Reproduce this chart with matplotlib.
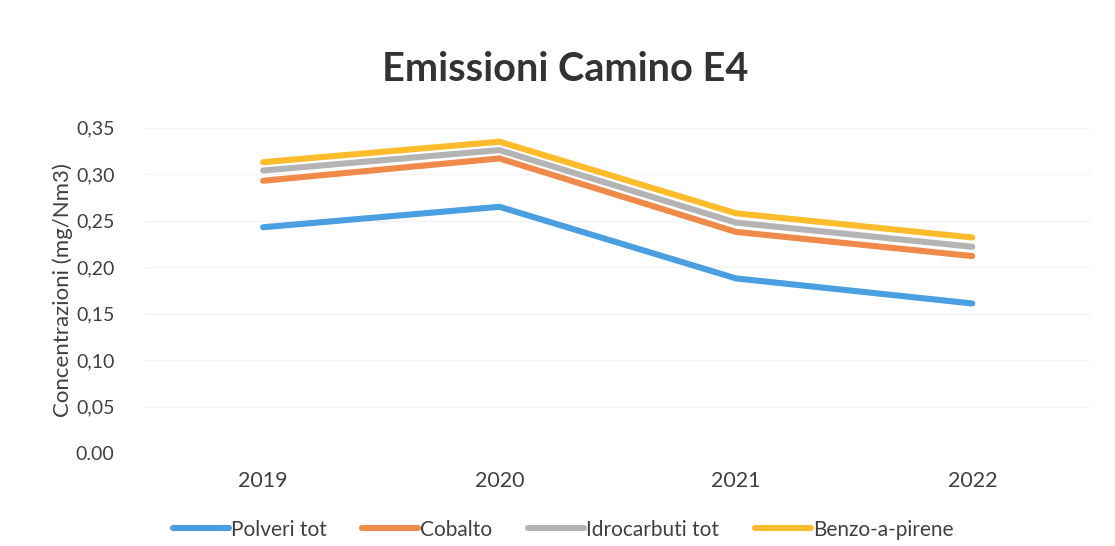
import matplotlib.pyplot as plt
from matplotlib.ticker import FixedLocator, FixedFormatter

years = ['2019', '2020', '2021', '2022']
polveri = [0.243, 0.265, 0.188, 0.161]
cobalto = [0.293, 0.317, 0.238, 0.212]
idrocarburi = [0.304, 0.326, 0.248, 0.222]
benzopirene = [0.313, 0.335, 0.258, 0.232]

series = [
    ('Polveri tot', polveri, '#4a9fe0'),
    ('Cobalto', cobalto, '#f08a4b'),
    ('Idrocarbuti tot', idrocarburi, '#b4b4b4'),
    ('Benzo-a-pirene', benzopirene, '#fcbc2c'),
]
yticks = [0.00, 0.05, 0.10, 0.15, 0.20, 0.25, 0.30, 0.35]
ytick_labels = ['0.00', '0,05', '0,10', '0,15', '0,20', '0,25', '0,30', '0,35']

plt.rcParams['font.family'] = ['Lato', 'DejaVu Sans']

fig = plt.figure(figsize=(11.15, 5.46), dpi=100)
ax = fig.add_axes([0.130, 0.170, 0.848, 0.596])

x = range(len(years))
for name, vals, color in series:
    ax.plot(x, vals, color=color, lw=4.4, solid_capstyle='round',
            solid_joinstyle='round', label=name)

ax.set_xlim(-0.5, len(years) - 0.5)
ax.set_ylim(0, 0.35)
ax.set_xticks(list(x))
ax.set_xticklabels(years)
ax.yaxis.set_major_locator(FixedLocator(yticks))
ax.yaxis.set_major_formatter(FixedFormatter(ytick_labels))
ax.tick_params(axis='both', length=0, colors='#404040')
ax.tick_params(axis='x', pad=13, labelsize=15.5)
ax.tick_params(axis='y', pad=22, labelsize=14)
ax.grid(axis='y', color='#f3f3f3', lw=1)
ax.set_axisbelow(True)
for s in ax.spines.values():
    s.set_visible(False)

ax.set_ylabel('Concentrazioni (mg/Nm3)', fontsize=16, color='#404040', labelpad=2)
fig.text(0.507, 0.872, 'Emissioni Camino E4', ha='center', va='center',
         fontsize=28.5, fontweight='bold', color='#333333')

fig.legend(loc='center', bbox_to_anchor=(0.505, 0.03), ncol=4, frameon=False,
           fontsize=15, handlelength=2.7, handletextpad=0.1, columnspacing=1.7,
           labelcolor='#404040')

fig.savefig('out.png', dpi=100, facecolor='white')
